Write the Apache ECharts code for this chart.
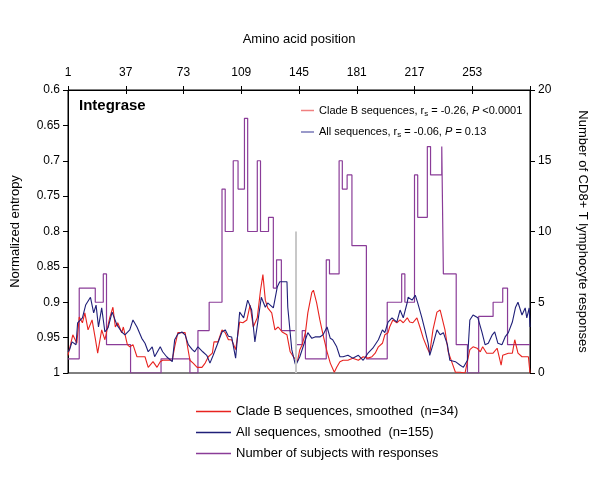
<!DOCTYPE html>
<html><head><meta charset="utf-8">
<script src="https://cdn.jsdelivr.net/npm/echarts@6/dist/echarts.min.js"></script>
<style>html,body{margin:0;padding:0;background:#fff}#c{width:600px;height:480px}</style>
</head><body><div id="c"></div>
<script>
// ---- data ----
const posTicks = [1, 37, 73, 109, 145, 181, 217, 253];

// Number of subjects with responses (step function: value holds from start position)
const respStart = [1, 8, 18, 23, 25, 40, 59, 77, 82, 89, 97, 99, 104, 107, 111, 113, 119, 121, 126, 129, 131, 134, 143, 147, 149, 162, 164, 170, 172, 175, 178, 187, 200, 209, 211, 217, 219, 225, 227, 234, 235, 243, 250, 257, 266, 272, 275, 289];
const respCount = [1, 6, 5, 7, 2, 0, 1, 0, 3, 5, 13, 10, 15, 13, 18, 10, 15, 10, 11, 6, 8, 3, 2, 3, 1, 8, 7, 15, 13, 14, 9, 1, 5, 7, 5, 14, 11, 16, 14, 16, 7, 2, 0, 4, 5, 6, 2, 2];

// Clade B sequences, smoothed
const cladeBPos = [1, 1.5, 4, 6.5, 8, 10, 11.5, 13.5, 16, 18, 19.5, 22, 24, 27, 29, 30.5, 32, 34.5, 35.5, 38, 39.5, 41.5, 44, 46, 49, 51, 54, 56.5, 58.5, 60, 62.5, 66, 67.5, 69.5, 74, 77, 79, 81.5, 84.5, 86.5, 88.5, 91, 92, 94.5, 97, 99, 101, 103, 105.5, 108, 110, 112.5, 114.5, 116.5, 119, 121, 122.5, 124, 125.5, 128, 130, 132, 134.5, 137.5, 139.5, 141.5, 144, 145.5, 147, 149, 150.5, 153, 154, 156, 158, 160, 162.5, 164.5, 167, 168.5, 170.5, 172.5, 175.5, 178.5, 182, 185, 188, 190.5, 192.5, 194.5, 197, 198.5, 200.5, 201.5, 203.5, 206, 208, 210, 212.5, 214, 216, 218.5, 220.5, 222.5, 225, 226.5, 228.5, 231, 233, 234, 236, 238, 240.5, 242.5, 245.5, 248.5, 251.5, 253.5, 256, 258, 259.5, 262, 264, 266, 268.5, 271, 272, 275.5, 278, 279.5, 281.5, 284, 286, 288, 289];
const cladeBEnt = [0.975, 0.970, 0.946, 0.958, 0.921, 0.929, 0.915, 0.939, 0.925, 0.951, 0.972, 0.939, 0.953, 0.922, 0.907, 0.935, 0.929, 0.943, 0.935, 0.960, 0.963, 0.960, 0.977, 0.977, 0.977, 0.992, 0.984, 0.992, 0.984, 0.982, 0.982, 0.982, 0.963, 0.943, 0.943, 0.982, 0.986, 0.992, 0.992, 0.986, 0.977, 0.972, 0.956, 0.956, 0.939, 0.943, 0.953, 0.953, 0.967, 0.928, 0.929, 0.925, 0.904, 0.935, 0.922, 0.883, 0.861, 0.897, 0.908, 0.915, 0.939, 0.935, 0.942, 0.946, 0.970, 0.977, 0.984, 0.967, 0.960, 0.943, 0.915, 0.886, 0.883, 0.901, 0.925, 0.946, 0.970, 0.986, 0.999, 0.992, 0.984, 0.982, 0.982, 0.979, 0.982, 0.977, 0.979, 0.977, 0.972, 0.963, 0.958, 0.946, 0.943, 0.935, 0.925, 0.929, 0.925, 0.929, 0.922, 0.928, 0.929, 0.922, 0.936, 0.951, 0.965, 0.972, 0.939, 0.914, 0.911, 0.911, 0.939, 0.970, 0.986, 0.999, 0.999, 1.0, 0.967, 0.963, 0.965, 0.970, 0.963, 0.972, 0.972, 0.972, 0.965, 0.989, 0.975, 0.972, 0.972, 0.953, 0.972, 0.977, 0.977, 0.977, 1.0];

// All sequences, smoothed
const allPos = [1, 2, 3.5, 6, 7, 10, 12, 15, 17, 18.5, 20, 22, 24, 26, 28.5, 31.5, 34.5, 36.5, 39.5, 41.5, 44, 47, 49, 51, 53.5, 55, 58.5, 60, 62.5, 66, 67.5, 69.5, 72, 74, 76, 78.5, 80, 82, 85, 87.5, 89.5, 91.5, 94, 97, 99, 101, 103, 105.5, 108, 110.5, 113, 115.5, 117.5, 119.5, 121.5, 124, 125.5, 129, 131.5, 133, 137.5, 138, 140.5, 142.5, 143, 145.5, 149, 150.5, 153, 155, 158, 160, 162.5, 164.5, 166, 168.5, 170.5, 172.5, 175.5, 178.5, 182, 185, 188, 191, 194.5, 197, 198.5, 200.5, 203, 206, 208, 210, 212.5, 213, 215.5, 217.5, 219, 221.5, 223.5, 225.5, 226.5, 228.5, 231, 233, 235, 237.5, 239, 242.5, 245.5, 247.5, 250, 251.5, 253.5, 256.5, 259, 261, 263, 265.5, 267, 269, 271.5, 273.5, 275.5, 278, 280, 281.5, 284, 286, 287, 288.5, 289];
const allEnt = [0.970, 0.967, 0.956, 0.960, 0.929, 0.922, 0.904, 0.893, 0.915, 0.904, 0.935, 0.908, 0.942, 0.936, 0.914, 0.932, 0.942, 0.946, 0.939, 0.925, 0.935, 0.951, 0.958, 0.970, 0.963, 0.977, 0.963, 0.970, 0.977, 0.984, 0.953, 0.945, 0.942, 0.946, 0.960, 0.967, 0.970, 0.963, 0.970, 0.975, 0.986, 0.975, 0.960, 0.942, 0.939, 0.948, 0.949, 0.979, 0.914, 0.922, 0.897, 0.911, 0.956, 0.925, 0.893, 0.907, 0.901, 0.908, 0.878, 0.871, 0.871, 0.907, 0.967, 0.986, 0.989, 0.977, 0.953, 0.943, 0.951, 0.949, 0.949, 0.946, 0.935, 0.951, 0.953, 0.963, 0.977, 0.977, 0.975, 0.979, 0.975, 0.982, 0.972, 0.965, 0.953, 0.939, 0.943, 0.928, 0.922, 0.928, 0.911, 0.922, 0.900, 0.893, 0.897, 0.890, 0.901, 0.921, 0.939, 0.958, 0.975, 0.960, 0.939, 0.946, 0.943, 0.960, 0.982, 0.984, 0.989, 0.992, 0.982, 0.925, 0.918, 0.922, 0.942, 0.960, 0.958, 0.946, 0.942, 0.958, 0.960, 0.949, 0.943, 0.928, 0.907, 0.900, 0.918, 0.908, 0.922, 0.908, 0.935];

const markerPos = 143;
const markerRange = [0.8, 1];

const seriesNames = ['Clade B sequences, smoothed  (n=34)', 'All sequences, smoothed  (n=155)', 'Number of subjects with responses'];
const statNames = ['Clade B sequences, r_s = -0.26, P <0.0001', 'All sequences, r_s = -0.06, P = 0.13'];

// ---- chart ----
const FONT = '"Liberation Sans", Arial, sans-serif';
const RED = '#e8231f', BLUE = '#1f1f78', PURPLE = '#8a3c98';
const zip = (a, b) => a.map((v, i) => [v, b[i]]);

const chart = echarts.init(document.getElementById('c'), null, { renderer: 'canvas' });
const axisCommon = {
  axisLine: { show: true, onZero: false, lineStyle: { color: '#000', width: 1 } },
  axisTick: { show: true, length: 5, lineStyle: { color: '#000' } },
  splitLine: { show: false },
  nameTextStyle: { color: '#000', fontSize: 13, fontFamily: FONT },
  axisLabel: { color: '#000', fontSize: 12, fontFamily: FONT, margin: 8 }
};

chart.setOption({
  animation: false,
  textStyle: { fontFamily: FONT },
  grid: { left: 68, right: 70, top: 90, bottom: 107, show: true, borderColor: '#000', borderWidth: 1, backgroundColor: 'transparent' },
  title: { text: 'Integrase', left: 74, top: 93, textStyle: { fontSize: 15, fontWeight: 'bold', color: '#000', fontFamily: FONT } },
  legend: [
    {
      data: statNames, orient: 'vertical', left: 296, top: 100, itemGap: 9,
      itemWidth: 13, itemHeight: 1.5, icon: 'rect',
      textStyle: { fontSize: 11, color: '#000', fontFamily: FONT,
        rich: { s: { fontSize: 8, verticalAlign: 'bottom', padding: [6, 0, 0, 0], color: '#000' },
                i: { fontStyle: 'italic', fontSize: 11, color: '#000' },
                n: { fontSize: 11, color: '#000' } } },
      formatter: name => {
        const [pre, post] = name.split('r_s');
        const [mid, p] = post.split('P');
        return '{n|' + pre + 'r}{s|s}{n|' + mid + '}{i|P}{n|' + p + '}';
      }
    },
    {
      data: seriesNames, orient: 'vertical', left: 191, top: 400, itemGap: 8,
      itemWidth: 35, itemHeight: 1.5, icon: 'rect',
      textStyle: { fontSize: 13, color: '#000', fontFamily: FONT }
    }
  ],
  xAxis: [
    Object.assign({}, axisCommon, {
      type: 'value', position: 'top', min: 1, max: 289, interval: 36,
      axisTick: { show: true, length: 4, lineStyle: { color: '#000' } },
      name: 'Amino acid position', nameLocation: 'middle', nameGap: 44,
      axisLabel: Object.assign({}, axisCommon.axisLabel, { margin: 11,
        formatter: v => posTicks.includes(v) ? String(v) : '' })
    }),
    {
      type: 'value', position: 'top', min: 1, max: 289, interval: 36,
      axisLine: { show: false, onZero: false },
      axisTick: { show: true, inside: true, length: 4, lineStyle: { color: '#000' } },
      axisLabel: { show: false }, splitLine: { show: false }
    }
  ],
  yAxis: [
    Object.assign({}, axisCommon, {
      type: 'value', inverse: true, min: 0.6, max: 1, interval: 0.05,
      name: 'Normalized entropy', nameLocation: 'middle', nameGap: 46,
      axisLabel: Object.assign({}, axisCommon.axisLabel, { formatter: v => String(+v.toFixed(2)) })
    }),
    Object.assign({}, axisCommon, {
      type: 'value', position: 'right', min: 0, max: 20, interval: 5,
      name: 'Number of CD8+ T lymphocyte responses', nameLocation: 'middle', nameRotate: -90, nameGap: 46
    })
  ],
  series: [
    { name: seriesNames[2], type: 'line', xAxisIndex: 0, yAxisIndex: 1, step: 'end', symbol: 'none',
      data: zip(respStart, respCount), lineStyle: { color: PURPLE, width: 1.2 }, itemStyle: { color: PURPLE }, z: 2 },
    { name: seriesNames[0], type: 'line', xAxisIndex: 0, yAxisIndex: 0, symbol: 'none',
      data: zip(cladeBPos, cladeBEnt), lineStyle: { color: RED, width: 1.1 }, itemStyle: { color: RED }, z: 3,
      markLine: { silent: true, symbol: 'none', label: { show: false },
        lineStyle: { color: '#c8c8c8', width: 2, type: 'solid' },
        data: [[{ coord: [markerPos, markerRange[0]] }, { coord: [markerPos, markerRange[1]] }]] } },
    { name: seriesNames[1], type: 'line', xAxisIndex: 0, yAxisIndex: 0, symbol: 'none',
      data: zip(allPos, allEnt), lineStyle: { color: BLUE, width: 1.1 }, itemStyle: { color: BLUE }, z: 4 },
    { name: statNames[0], type: 'line', data: [], itemStyle: { color: '#f08080' }, lineStyle: { color: '#f08080' } },
    { name: statNames[1], type: 'line', data: [], itemStyle: { color: '#7878b8' }, lineStyle: { color: '#7878b8' } }
  ]
});
</script></body></html>
